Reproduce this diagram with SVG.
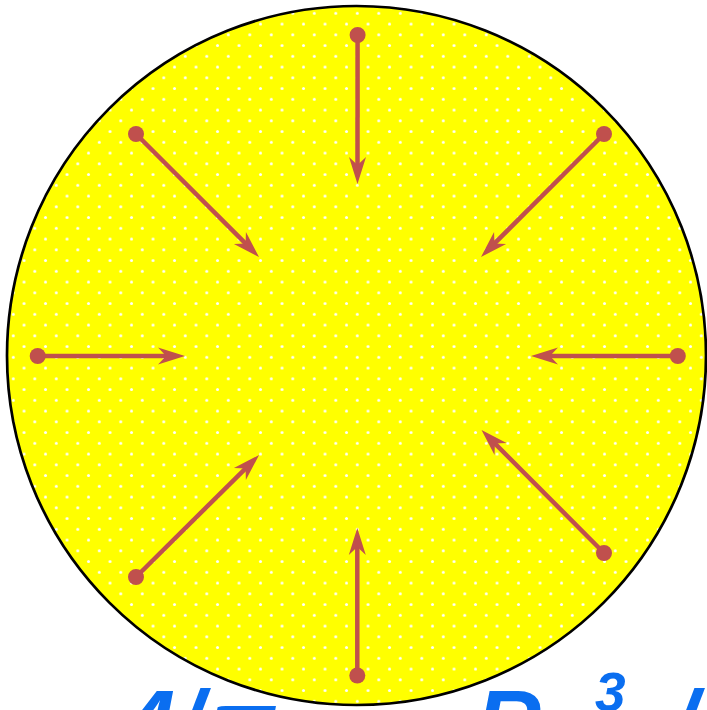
<svg xmlns="http://www.w3.org/2000/svg" width="707" height="710" viewBox="0 0 707 710">
<style>
.arrow{fill:none;stroke:#C0504D;stroke-width:4.5;marker-start:url(#dot);marker-end:url(#head)}
.formula{font-family:"Liberation Sans",Arial,sans-serif;font-weight:bold;font-style:italic;fill:#0A6EF0}
</style>
<defs>
<pattern id="dots" patternUnits="userSpaceOnUse" x="351.925" y="351.925" width="21.5" height="21.5">
<rect width="21.5" height="21.5" fill="#FFFF00"/>
<circle cx="5.375" cy="5.375" r="1.5" fill="#FFFFFF"/>
<circle cx="16.125" cy="16.125" r="1.5" fill="#FFFFFF"/>
</pattern>
<marker id="head" markerUnits="userSpaceOnUse" orient="auto" overflow="visible" refX="0" refY="0" markerWidth="1" markerHeight="1">
<path d="M16,0 L-11,-8.5 L-3,0 L-11,8.5 Z" fill="#C0504D"/>
</marker>
<marker id="dot" markerUnits="userSpaceOnUse" orient="auto" overflow="visible" refX="0" refY="0" markerWidth="1" markerHeight="1">
<circle cx="0" cy="0" r="8" fill="#C0504D"/>
</marker>
</defs>
<g id="sphere">
<circle cx="356.5" cy="355.5" r="349.5" fill="url(#dots)" stroke="#000000" stroke-width="2.7"/>
</g>
<g id="connectors">
<path class="arrow" d="M357.6,35 L357.5,168"/>
<path class="arrow" d="M357.3,675.5 L357.3,544"/>
<path class="arrow" d="M37.7,356 L169,356"/>
<path class="arrow" d="M677.8,356 L547,356"/>
<path class="arrow" d="M136,134 L247.7,245.7"/>
<path class="arrow" d="M604,134 L492.3,245.7"/>
<path class="arrow" d="M136,577 L247.7,466.3"/>
<path class="arrow" d="M604,553 L492.8,441.3"/>
</g>
<g id="formula">
<text class="formula" font-size="90"><tspan x="125" y="754">4</tspan><tspan x="178" y="754">/</tspan><tspan x="211" y="754">π</tspan><tspan x="476" y="754">R</tspan><tspan x="595" y="711" font-size="55">3</tspan><tspan x="672" y="754">/</tspan></text>
</g>
</svg>
